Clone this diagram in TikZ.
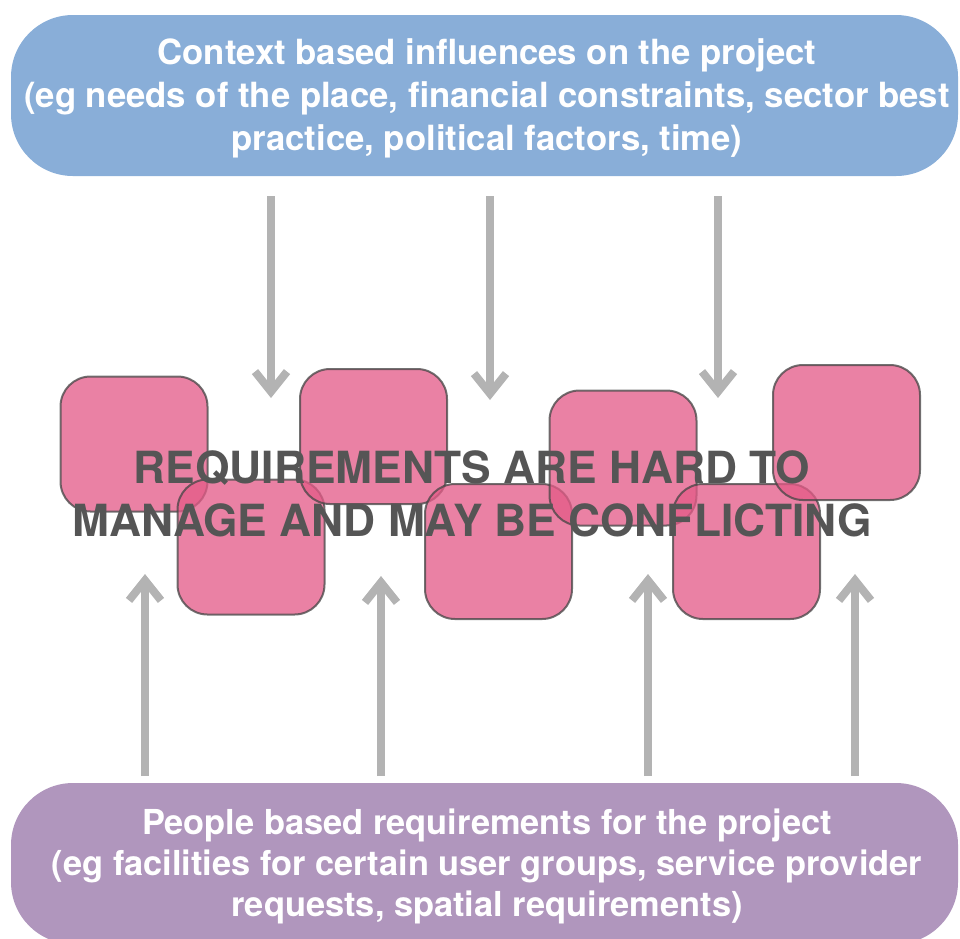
\documentclass[tikz,border=0pt]{standalone}
\usepackage{fontspec}
\setsansfont{TeX Gyre Heros}
\usetikzlibrary{arrows.meta}
\definecolor{ctxblue}{RGB}{137,174,216}
\definecolor{pplpurple}{RGB}{176,150,189}
\definecolor{sqpink}{RGB}{227,90,135}
\definecolor{sqborder}{RGB}{70,70,70}
\definecolor{arrgray}{RGB}{179,179,179}
\definecolor{txtgray}{RGB}{85,85,85}
\tikzset{
  bigbox/.style={rounded corners=62pt, inner sep=0pt},
  boxtext/.style={text=white, align=center, inner sep=0pt},
  reqsq/.style={draw=sqborder, fill=sqpink, opacity=0.76, line width=2pt,
    rounded corners=30pt, minimum width=147pt, minimum height=135pt, inner sep=0pt},
  flow/.style={draw=arrgray, line width=8pt,
    -{Straight Barb[length=20pt,width=32pt,line join=miter,line cap=butt]}},
  midtext/.style={text=txtgray, align=center, inner sep=0pt,
    font=\sffamily\bfseries\fontsize{44.3}{53}\selectfont}
}
\begin{document}
\begin{tikzpicture}[x=1pt,y=-1pt]
\useasboundingbox (0,0) rectangle (960,938);
% top and bottom boxes
\node[bigbox, fill=ctxblue, minimum width=947pt, minimum height=161pt] (ctx) at (484.5,95.5) {};
\node[boxtext, font=\sffamily\bfseries\fontsize{34.7}{43}\selectfont] (ctxtext) at (487,98)
  {Context based influences on the project\\(eg needs of the place, financial constraints, sector best\\practice, political factors, time)};
\node[bigbox, fill=pplpurple, minimum width=947pt, minimum height=161pt] (ppl) at (484.5,863.5) {};
\node[boxtext, font=\sffamily\bfseries\fontsize{34.4}{41}\selectfont] (ppltext) at (487,866)
  {People based requirements for the project\\(eg facilities for certain user groups, service provider\\requests, spatial requirements)};
% squares
\node[reqsq] (sq1) at (134,444) {};
\node[reqsq] (sq2) at (251,547) {};
\node[reqsq] (sq3) at (373.5,436.5) {};
\node[reqsq] (sq4) at (498.5,551.5) {};
\node[reqsq] (sq5) at (623,458) {};
\node[reqsq] (sq6) at (746.5,551.5) {};
\node[reqsq] (sq7) at (846.5,432.5) {};
% arrow coordinates
\coordinate (ta1) at (271,196); \coordinate (tb1) at (271,398);
\coordinate (ta2) at (490,196); \coordinate (tb2) at (490,400);
\coordinate (ta3) at (718,196); \coordinate (tb3) at (718,398);
\coordinate (ba1) at (145,776); \coordinate (bb1) at (145,574);
\coordinate (ba2) at (381,776); \coordinate (bb2) at (381,576);
\coordinate (ba3) at (648,776); \coordinate (bb3) at (648,574);
\coordinate (ba4) at (855,776); \coordinate (bb4) at (855,574);
\draw[flow] (ta1) -- (tb1);
\draw[flow] (ta2) -- (tb2);
\draw[flow] (ta3) -- (tb3);
\draw[flow] (ba1) -- (bb1);
\draw[flow] (ba2) -- (bb2);
\draw[flow] (ba3) -- (bb3);
\draw[flow] (ba4) -- (bb4);
% middle text
\node[midtext] (req) at (472,494) {REQUIREMENTS ARE HARD TO\\MANAGE AND MAY BE CONFLICTING};
\end{tikzpicture}
\end{document}
